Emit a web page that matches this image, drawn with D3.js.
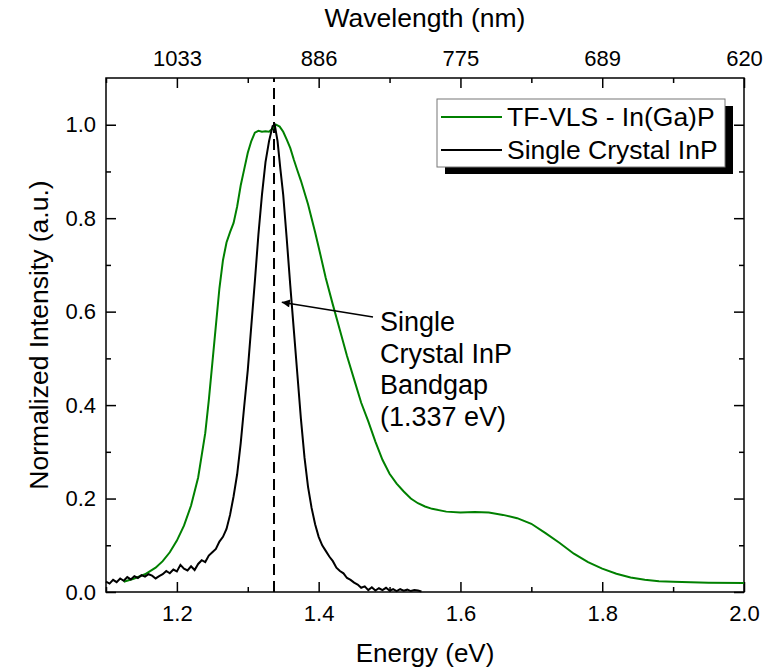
<!DOCTYPE html>
<html>
<head>
<meta charset="utf-8">
<script src="https://cdn.jsdelivr.net/npm/d3@7"></script>
<style>
  body { margin: 0; background: #fff; }
  text { font-family: "Liberation Sans", Arial, sans-serif; }
</style>
</head>
<body>
<div id="chart"></div>
<script>
// Energy (eV) / normalized intensity
const vlsEnergy = [1.125, 1.140, 1.155, 1.170, 1.180, 1.190, 1.200, 1.210, 1.220, 1.230, 1.240, 1.245, 1.250, 1.255, 1.260, 1.265, 1.270, 1.275, 1.280, 1.285, 1.290, 1.295, 1.300, 1.305, 1.310, 1.315, 1.320, 1.325, 1.330, 1.335, 1.340, 1.345, 1.350, 1.355, 1.360, 1.365, 1.370, 1.375, 1.380, 1.385, 1.390, 1.395, 1.400, 1.410, 1.420, 1.430, 1.440, 1.450, 1.460, 1.470, 1.480, 1.490, 1.500, 1.510, 1.520, 1.530, 1.540, 1.550, 1.560, 1.580, 1.600, 1.620, 1.640, 1.660, 1.680, 1.700, 1.720, 1.740, 1.760, 1.780, 1.800, 1.820, 1.840, 1.860, 1.880, 1.900, 1.950, 2.000];
const vlsIntensity = [0.022, 0.029, 0.038, 0.052, 0.066, 0.085, 0.110, 0.142, 0.185, 0.245, 0.340, 0.410, 0.490, 0.570, 0.650, 0.710, 0.748, 0.770, 0.790, 0.825, 0.870, 0.905, 0.940, 0.965, 0.983, 0.987, 0.985, 0.986, 0.985, 0.992, 1.000, 0.996, 0.985, 0.968, 0.950, 0.925, 0.902, 0.880, 0.855, 0.830, 0.800, 0.770, 0.738, 0.672, 0.615, 0.560, 0.505, 0.455, 0.405, 0.365, 0.322, 0.283, 0.253, 0.232, 0.215, 0.200, 0.190, 0.183, 0.178, 0.172, 0.170, 0.171, 0.170, 0.165, 0.158, 0.146, 0.126, 0.105, 0.082, 0.064, 0.050, 0.039, 0.031, 0.026, 0.023, 0.022, 0.020, 0.019];

const inpEnergy = [1.100, 1.105, 1.110, 1.115, 1.120, 1.125, 1.130, 1.135, 1.140, 1.145, 1.150, 1.155, 1.160, 1.165, 1.170, 1.175, 1.180, 1.185, 1.190, 1.195, 1.200, 1.205, 1.210, 1.215, 1.220, 1.225, 1.230, 1.235, 1.240, 1.245, 1.250, 1.255, 1.260, 1.265, 1.270, 1.275, 1.280, 1.285, 1.290, 1.295, 1.300, 1.305, 1.310, 1.315, 1.320, 1.325, 1.330, 1.335, 1.338, 1.342, 1.346, 1.350, 1.355, 1.360, 1.365, 1.370, 1.375, 1.380, 1.385, 1.390, 1.395, 1.400, 1.405, 1.410, 1.415, 1.420, 1.425, 1.430, 1.435, 1.440, 1.445, 1.450, 1.455, 1.460, 1.465, 1.470, 1.475, 1.480, 1.485, 1.490, 1.495, 1.500, 1.505, 1.510, 1.515, 1.520, 1.525, 1.530, 1.535, 1.540, 1.545];
const inpIntensity = [0.022, 0.018, 0.026, 0.021, 0.029, 0.024, 0.032, 0.027, 0.034, 0.030, 0.036, 0.033, 0.038, 0.035, 0.029, 0.034, 0.038, 0.045, 0.040, 0.048, 0.044, 0.058, 0.050, 0.046, 0.055, 0.047, 0.060, 0.068, 0.064, 0.078, 0.085, 0.092, 0.108, 0.118, 0.135, 0.165, 0.205, 0.252, 0.318, 0.398, 0.475, 0.570, 0.665, 0.765, 0.850, 0.920, 0.965, 0.997, 1.000, 0.965, 0.905, 0.850, 0.755, 0.655, 0.560, 0.465, 0.370, 0.288, 0.225, 0.180, 0.145, 0.118, 0.100, 0.088, 0.076, 0.066, 0.052, 0.045, 0.040, 0.030, 0.026, 0.020, 0.016, 0.009, 0.012, 0.004, 0.010, 0.003, 0.008, 0.004, 0.009, 0.003, 0.006, 0.002, 0.006, 0.003, 0.005, 0.002, 0.004, 0.003, 0.001];

const seriesNames = ['TF-VLS - In(Ga)P', 'Single Crystal InP'];
const seriesColors = ['#008000', '#000000'];

const energyMajor = [1.2, 1.4, 1.6, 1.8, 2.0];
const energyMinor = [1.1, 1.3, 1.5, 1.7, 1.9];
const intensityMajor = [0.0, 0.2, 0.4, 0.6, 0.8, 1.0];
const intensityMinor = [0.1, 0.3, 0.5, 0.7, 0.9];

const bandgap = 1.337;
const noteLines = ['Single', 'Crystal InP', 'Bandgap', '(1.337 eV)'];

const width = 765;
const height = 671;
const margin = { top: 78, right: 21, bottom: 79, left: 106 };
const w = width - margin.left - margin.right;
const h = height - margin.top - margin.bottom;

const svg = d3.select('#chart')
  .append('svg')
  .attr('width', width)
  .attr('height', height)
  .append('g')
  .attr('transform', `translate(${margin.left},${margin.top})`);

const x = d3.scaleLinear().domain([1.1, 2.0]).range([0, w]);
const y = d3.scaleLinear().domain([0, 1.1]).range([h, 0]);

// axes, ticks pointing inward
function styleAxis(g, size) {
  g.select('.domain').remove();
  g.selectAll('line').attr('stroke', '#000').attr('stroke-width', 1.5);
  g.selectAll('text').attr('font-size', size).attr('fill', '#000');
}

svg.append('g')
  .attr('transform', `translate(0,${h})`)
  .call(d3.axisBottom(x).tickValues(energyMajor).tickSize(-10).tickPadding(13).tickFormat(d3.format('.1f')))
  .call(g => styleAxis(g, 22));
svg.append('g')
  .attr('transform', `translate(0,${h})`)
  .call(d3.axisBottom(x).tickValues(energyMinor).tickSize(-5).tickFormat(''))
  .call(g => styleAxis(g, 22));

svg.append('g')
  .call(d3.axisTop(x).tickValues(energyMajor).tickSize(-10).tickPadding(12).tickFormat(d => Math.round(1240 / d)))
  .call(g => styleAxis(g, 22));
svg.append('g')
  .call(d3.axisTop(x).tickValues(energyMinor).tickSize(-5).tickFormat(''))
  .call(g => styleAxis(g, 22));

svg.append('g')
  .call(d3.axisLeft(y).tickValues(intensityMajor).tickSize(-10).tickPadding(10).tickFormat(d3.format('.1f')))
  .call(g => styleAxis(g, 22));
svg.append('g')
  .call(d3.axisLeft(y).tickValues(intensityMinor).tickSize(-5).tickFormat(''))
  .call(g => styleAxis(g, 22));

svg.append('g')
  .attr('transform', `translate(${w},0)`)
  .call(d3.axisRight(y).tickValues(intensityMajor).tickSize(-10).tickFormat(''))
  .call(g => styleAxis(g, 22));
svg.append('g')
  .attr('transform', `translate(${w},0)`)
  .call(d3.axisRight(y).tickValues(intensityMinor).tickSize(-5).tickFormat(''))
  .call(g => styleAxis(g, 22));

// frame
svg.append('rect')
  .attr('width', w)
  .attr('height', h)
  .attr('fill', 'none')
  .attr('stroke', '#000')
  .attr('stroke-width', 1.5);

// bandgap marker
svg.append('line')
  .attr('x1', x(bandgap)).attr('x2', x(bandgap))
  .attr('y1', y(0)).attr('y2', y(1.1))
  .attr('stroke', '#000')
  .attr('stroke-width', 2)
  .attr('stroke-dasharray', '11,6');

// curves
const line = d3.line().x(d => x(d[0])).y(d => y(d[1]));
const vls = vlsEnergy.map((e, i) => [e, vlsIntensity[i]]);
const inp = inpEnergy.map((e, i) => [e, inpIntensity[i]]);

svg.append('path').datum(vls)
  .attr('d', line).attr('fill', 'none')
  .attr('stroke', seriesColors[0]).attr('stroke-width', 2);
svg.append('path').datum(inp)
  .attr('d', line).attr('fill', 'none')
  .attr('stroke', seriesColors[1]).attr('stroke-width', 2);

// annotation arrow
svg.append('defs').append('marker')
  .attr('id', 'head')
  .attr('viewBox', '0 0 10 10')
  .attr('refX', 10).attr('refY', 5)
  .attr('markerWidth', 11).attr('markerHeight', 8)
  .attr('markerUnits', 'userSpaceOnUse')
  .attr('orient', 'auto')
  .append('path')
  .attr('d', 'M0,0L10,5L0,10Z')
  .attr('fill', '#000');

svg.append('line')
  .attr('x1', 373 - margin.left).attr('y1', 317 - margin.top)
  .attr('x2', x(1.348)).attr('y2', y(0.62))
  .attr('stroke', '#000')
  .attr('stroke-width', 1.5)
  .attr('marker-end', 'url(#head)');

svg.append('text')
  .attr('x', 380 - margin.left)
  .attr('y', 331 - margin.top)
  .attr('font-size', 27)
  .selectAll('tspan')
  .data(noteLines)
  .enter()
  .append('tspan')
  .attr('x', 380 - margin.left)
  .attr('dy', (d, i) => i === 0 ? 0 : 31.5)
  .text(d => d);

// legend with drop shadow
const legend = svg.append('g').attr('transform', `translate(${437 - margin.left},${99 - margin.top})`);
legend.append('rect')
  .attr('x', 8).attr('y', 7)
  .attr('width', 288).attr('height', 68)
  .attr('fill', '#000');
legend.append('rect')
  .attr('width', 288).attr('height', 68)
  .attr('fill', '#fff')
  .attr('stroke', '#777')
  .attr('stroke-width', 1);

seriesNames.forEach((name, i) => {
  legend.append('line')
    .attr('x1', 4).attr('x2', 65)
    .attr('y1', 18 + i * 33).attr('y2', 18 + i * 33)
    .attr('stroke', seriesColors[i])
    .attr('stroke-width', 2);
  legend.append('text')
    .attr('x', 70)
    .attr('y', 27 + i * 33)
    .attr('font-size', 26.5)
    .text(name);
});

// axis titles
svg.append('text')
  .attr('x', w / 2)
  .attr('y', h + 70)
  .attr('text-anchor', 'middle')
  .attr('font-size', 26)
  .text('Energy (eV)');

svg.append('text')
  .attr('x', w / 2)
  .attr('y', -51)
  .attr('text-anchor', 'middle')
  .attr('font-size', 26.5)
  .text('Wavelength (nm)');

svg.append('text')
  .attr('transform', 'rotate(-90)')
  .attr('x', -h / 2)
  .attr('y', -margin.left + 48)
  .attr('text-anchor', 'middle')
  .attr('font-size', 26.5)
  .text('Normalized Intensity (a.u.)');
</script>
</body>
</html>
